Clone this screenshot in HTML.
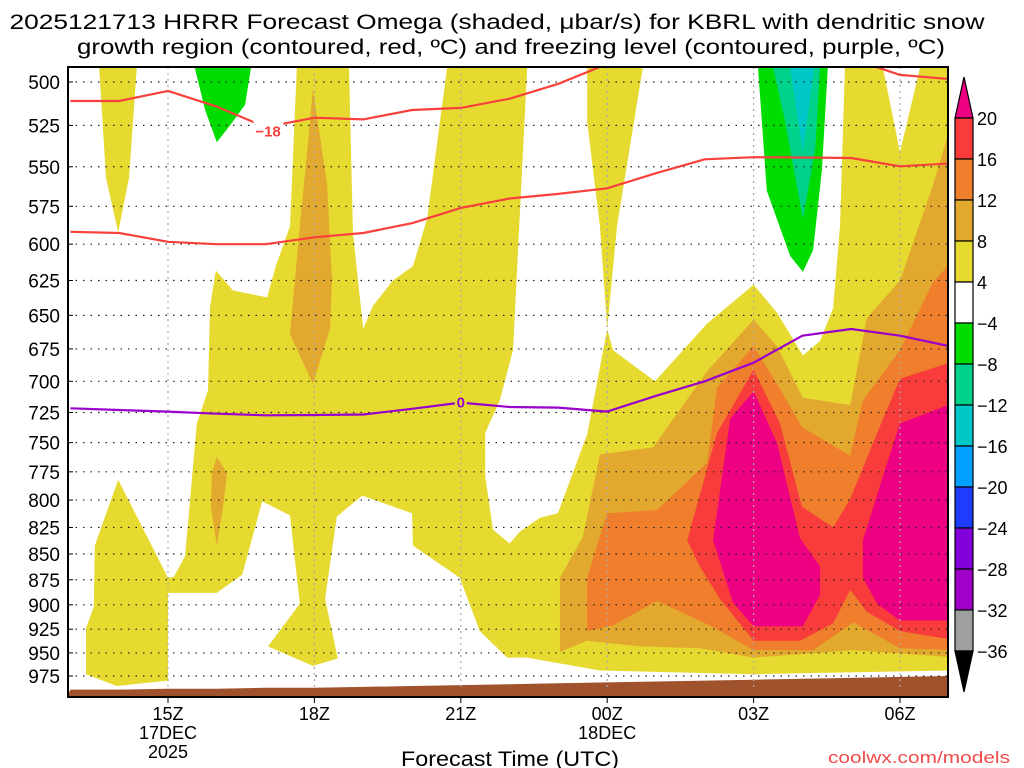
<!DOCTYPE html>
<html><head><meta charset="utf-8"><style>
body{margin:0;background:#fff;}
svg{display:block;font-family:"Liberation Sans",sans-serif;}
</style></head><body>
<svg id="chart" width="1024" height="768" viewBox="0 0 1024 768" xmlns="http://www.w3.org/2000/svg">
<defs><clipPath id="plotclip"><rect x="68" y="67" width="880" height="630"/></clipPath></defs>
<text x="497" y="29" font-size="21" text-anchor="middle" textLength="975" lengthAdjust="spacingAndGlyphs">2025121713 HRRR Forecast Omega (shaded, μbar/s) for KBRL with dendritic snow</text>
<text x="511" y="54" font-size="21" text-anchor="middle" textLength="868" lengthAdjust="spacingAndGlyphs">growth region (contoured, red, ºC) and freezing level (contoured, purple, ºC)</text>
<g id="plot" clip-path="url(#plotclip)"></g>
<g id="overlay"></g>
<text x="510" y="766" font-size="21" text-anchor="middle" textLength="218" lengthAdjust="spacingAndGlyphs">Forecast Time (UTC)</text>
<text x="1010" y="763" font-size="17" fill="#f04a4a" text-anchor="end" textLength="182" lengthAdjust="spacingAndGlyphs">coolwx.com/models</text>
</svg>
<script>
// ---- data ----
const hours = [-2,-1,0,1,2,3,4,5,6,7,8,9,10,11,12,13,14,15,16]; // hours after 15Z
const isoMinus18Upper = [510.8,510.8,505,514,526,520.5,521.5,516,514.8,509.5,501,490,482,478,476,478,487,496,498.3];
const isoMinus18Lower = [591.7,592.5,598.4,600,600,595.4,592.5,586,576,570,567,563.5,554,545.4,544.1,544.3,544.6,549.7,548];
const freezingLevel = [721.6,723,724.3,726,727.3,727,726.6,722,717,720.5,721,724.3,711.5,700,685.5,665,660,665,672.8];
const surfacePressure = [990,990,989,989,988,988,987,986,985,984,983,982,981,980,979,978,977,976,975];
const pressureTicks = [500,525,550,575,600,625,650,675,700,725,750,775,800,825,850,875,900,925,950,975];
const timeTicks = [0,3,6,9,12,15];
const timeLabels = [["15Z","17DEC","2025"],["18Z"],["21Z"],["00Z","18DEC"],["03Z"],["06Z"]];
const cbLevels = [20,16,12,8,4,-4,-8,-12,-16,-20,-24,-28,-32,-36];
const cbColors = ["#f83c3c","#ef7f2c","#e2a92e","#e6da30","#ffffff","#00dc00","#00d28c","#00c8c8","#00a0ff","#1e3cff","#8200dc","#a000c8","#a0a0a0"];
// shaded omega regions: [t, p] points
const whiteLeft = [[-2.05,492],[-1.41,492],[-1.27,557],[-1.02,592],[-0.8,557],[-0.64,492],[2.64,492],[2.5,588],[2.21,615],[2.03,637],[1.33,632],[0.98,618],[0.86,644],[0.82,707],[0.59,734],[0.35,852],[0.12,872],[0,873],[-1.02,782],[-1.5,842],[-1.52,902],[-1.68,924],[-1.68,973],[-1.05,986],[0,980],[0,1000],[-2.05,1000]];
const whiteBottom = [[0,888],[1,888],[1.52,870],[1.93,801],[2.5,814],[2.7,899],[2.05,943],[2.97,964],[3.48,956],[3.22,894],[3.46,815],[3.98,796],[5,812],[5.02,842],[5.98,873],[6.39,927],[6.95,955],[7.36,955],[8.85,969],[12,973],[16,969],[16,1000],[0,1000]];
const whiteMid1 = [[3.71,492],[3.79,593],[4,660],[4.2,643],[4.61,625],[5.02,615],[5.31,583],[5.72,492]];
const whiteMid2 = [[7.36,492],[7.07,676],[6.8,715],[6.5,742],[6.5,779],[6.66,827],[7,840],[7.21,829],[7.62,816],[7.99,812],[8.59,743],[9,660],[8.85,588],[8.59,523],[8.59,492]];
const whiteRight1 = [[9.73,492],[9.2,588],[9,660],[9.12,676],[9.98,700],[11.05,656],[12,628],[12.48,648],[13.01,680],[13.36,669],[13.63,645],[13.77,588],[13.87,492]];
const whiteRight2 = [[14.65,492],[15,541],[15.41,492]];
const green1 = [[0.55,492],[0.76,516],[1,535],[1.27,525],[1.58,513],[1.7,492]];
const green2 = [[12.09,492],[12.27,565],[12.75,608],[13.01,619],[13.22,604],[13.4,552],[13.52,492]];
const teal2 = [[12.4,492],[12.64,522],[13.01,583],[13.26,540],[13.36,492]];
const cyan2 = [[12.75,492],[13.01,541],[13.24,492]];
const amber1 = [[2.97,504],[3.26,561],[3.36,625],[3.32,660],[2.97,702],[2.5,664],[2.7,588],[2.87,535]];
const amber2 = [[1,762],[1.21,776],[1.13,806],[1,842],[0.88,806],[0.9,776]];
const amber3 = [[8.03,949],[8.03,873],[8.5,834],[8.85,760],[9.94,754],[11.05,692],[12,653],[12.48,673],[13.01,713],[13.98,719],[14.32,652],[15,625],[15.68,561],[15.98,531],[16.2,500],[16.2,955],[14.04,947],[12,955],[10.9,945],[9.67,943],[8.59,937]];
const orange = [[8.59,927],[8.59,873],[9,812],[10.02,809],[11.05,767],[11.25,705],[12,673],[12.48,702],[12.99,737],[13.98,761],[14.24,715],[15,676],[15.68,626],[15.98,615],[16.2,600],[16.2,947],[15,945],[14.04,918],[13.22,947],[12,947],[11.1,921],[10.02,896],[9.12,921]];
const red = [[10.64,837],[11.25,742],[12,691],[12.54,734],[12.99,806],[13.63,825],[13.98,799],[14.53,742],[15,698],[15.98,686],[16.2,684],[16.2,937],[15,927],[14.32,907],[13.98,885],[13.63,919],[12.95,937],[12,937],[11.31,894],[10.9,862]];
const magentaL = [[11.17,837],[11.52,730],[12,708],[12.48,750],[12.95,835],[13.36,862],[13.36,890],[13.01,922],[12,922],[11.58,898]];
const magentaR = [[14.24,837],[14.65,779],[15,734],[15.98,719],[16.2,717],[16.2,916],[15,916],[14.53,899],[14.24,873]];

// ---- axes ----
const NS="http://www.w3.org/2000/svg";
const X = t => 168 + t*48.8;
const Y = p => 82 + 889.5*Math.log(p/500);
const plot=document.getElementById('plot'), ov=document.getElementById('overlay');
function mk(tag, parent, attrs){const e=document.createElementNS(NS,tag);for(const k in attrs)e.setAttribute(k,attrs[k]);parent.appendChild(e);return e;}
function poly(pts, color, name){
  const e=mk('polygon',plot,{points:pts.map(d=>X(d[0]).toFixed(1)+','+Y(d[1]).toFixed(1)).join(' '),fill:color});
  
  
}
function line(vals, color, name){
  const e=mk('polyline',plot,{points:hours.map((h,i)=>X(h).toFixed(1)+','+Y(vals[i]).toFixed(1)).join(' '),fill:'none',stroke:color,'stroke-width':2.2,'stroke-linejoin':'round'});
  
  
}
const bg=mk('rect',plot,{x:68,y:67,width:880,height:630,fill:'#e6da30'});


poly(whiteLeft,'#fff','omega-neutral-left');
poly(whiteBottom,'#fff','omega-neutral-bottom');
poly(whiteMid1,'#fff','omega-neutral-mid1');
poly(whiteMid2,'#fff','omega-neutral-mid2');
poly(whiteRight1,'#fff','omega-neutral-right1');
poly(whiteRight2,'#fff','omega-neutral-right2');
poly(green1,'#00dc00','omega-minus4-left');
poly(green2,'#00dc00','omega-minus4-right');
poly(teal2,'#00d28c','omega-minus8');
poly(cyan2,'#00c8c8','omega-minus12');
poly(amber1,'#e2a92e','omega-8-streak-upper');
poly(amber2,'#e2a92e','omega-8-streak-lower');
poly(amber3,'#e2a92e','omega-8-region');
poly(orange,'#ef7f2c','omega-12-region');
poly(red,'#f83c3c','omega-16-region');
poly(magentaL,'#ee0082','omega-20-left');
poly(magentaR,'#ee0082','omega-20-right');
// ground
const gpts=hours.map((h,i)=>X(h).toFixed(1)+','+Y(surfacePressure[i]).toFixed(1)).join(' ')+' '+X(16)+',700 '+X(-2.1)+',700';
const ground=mk('polygon',plot,{points:gpts,fill:'#a0522d'});


// grid
pressureTicks.forEach(p=>{
  const g=mk('line',plot,{x1:68,x2:948,y1:Y(p),y2:Y(p),stroke:'#222','stroke-width':1.2,'stroke-dasharray':'1.5 6'});
  
  
});
timeTicks.forEach(t=>{
  const g=mk('line',plot,{x1:X(t),x2:X(t),y1:67,y2:688,stroke:'#aaa','stroke-width':1.2,'stroke-dasharray':'2 4'});
  
  
});
line(isoMinus18Upper,'#f8403c','isotherm-minus18-upper');
line(isoMinus18Lower,'#f8403c','isotherm-minus18-lower');
line(freezingLevel,'#9900cc','freezing-level-line');
// labels
const l18bg=mk('rect',plot,{x:X(1.75),y:Y(528)-10,width:30,height:18,fill:'#fff'});


const l18=mk('text',plot,{x:X(2.05),y:Y(528)+6,'font-size':15,'font-weight':'bold',fill:'#f8403c','text-anchor':'middle'});
l18.textContent='−18';


const l0bg=mk('rect',plot,{x:X(6)-6,y:Y(717)-9,width:12,height:16,fill:'#e6da30'});


const l0=mk('text',plot,{x:X(6),y:Y(717)+5,'font-size':15,'font-weight':'bold',fill:'#9900cc','text-anchor':'middle'});
l0.textContent='0';


// frame
const fr=mk('rect',ov,{x:68,y:67,width:880,height:630,fill:'none',stroke:'#000','stroke-width':2});


pressureTicks.forEach(p=>{
  const t=mk('text',ov,{x:60,y:Y(p)+7,'font-size':19,'text-anchor':'end'});
  t.textContent=p;
  
  
  const tk=mk('line',ov,{x1:68,x2:73,y1:Y(p),y2:Y(p),stroke:'#000','stroke-width':1});
  
  
});
timeTicks.forEach((t,i)=>{
  const tk=mk('line',ov,{x1:X(t),x2:X(t),y1:697,y2:703,stroke:'#000','stroke-width':1});
  
  
  timeLabels[i].forEach((s,j)=>{
    const tx=mk('text',ov,{x:X(t),y:720+j*19,'font-size':18,'text-anchor':'middle'});
    tx.textContent=s;
    
    
  });
});
// colorbar
const cbX=955, cbW=18, cbTop=118, cbStep=41;
const up=mk('polygon',ov,{points:`${cbX},${cbTop} ${cbX+cbW},${cbTop} ${cbX+cbW/2},77`,fill:'#ee0082',stroke:'#000','stroke-width':1.2});


cbColors.forEach((c,i)=>{
  const r=mk('rect',ov,{x:cbX,y:cbTop+i*cbStep,width:cbW,height:cbStep,fill:c,stroke:'#000','stroke-width':1.2});
  
  
});
const dn=mk('polygon',ov,{points:`${cbX},${cbTop+13*cbStep} ${cbX+cbW},${cbTop+13*cbStep} ${cbX+cbW/2},692`,fill:'#000',stroke:'#000','stroke-width':1.2});


cbLevels.forEach((v,i)=>{
  const t=mk('text',ov,{x:977,y:cbTop+i*cbStep+7,'font-size':18});
  t.textContent=v<0?'−'+(-v):String(v);
  
  
});
</script>
</body></html>
